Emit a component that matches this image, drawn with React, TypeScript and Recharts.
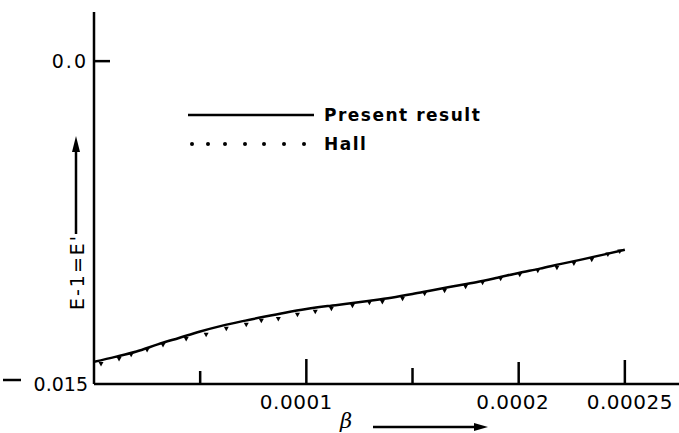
import React from 'react'
import { LineChart, Line, XAxis, YAxis } from 'recharts'

// beta values and E-1=E'
const presentBeta = [
  0, 0.00001, 0.00002, 0.00003, 0.00004, 0.00005, 0.00006, 0.00007, 0.00008, 0.00009,
  0.0001, 0.00011, 0.00012, 0.00013, 0.00014, 0.00015, 0.00016, 0.00017, 0.00018, 0.00019,
  0.0002, 0.00021, 0.00022, 0.00023, 0.00024, 0.00025,
]
const presentE = [
  -0.01397, -0.01374, -0.01349, -0.01316, -0.01286, -0.01256, -0.0123, -0.01208, -0.01188, -0.01169,
  -0.01152, -0.01138, -0.01126, -0.01113, -0.01099, -0.01082, -0.01063, -0.01045, -0.01027, -0.01006,
  -0.00984, -0.00964, -0.00942, -0.00921, -0.00899, -0.00876,
]

const hallBeta = [
  0.0000033, 0.0000118, 0.0000175, 0.000025, 0.0000325, 0.0000434, 0.0000528, 0.0000623, 0.0000717, 0.0000788,
  0.0000868, 0.0000958, 0.0001042, 0.0001118, 0.0001217, 0.0001297, 0.0001358, 0.0001453, 0.0001557, 0.0001651,
  0.000175, 0.000183, 0.0001915, 0.0002005, 0.000209, 0.000218, 0.000226, 0.0002344, 0.000242, 0.0002476,
]
const hallE = [
  -0.01402, -0.01379, -0.0136, -0.01337, -0.01314, -0.01286, -0.01267, -0.01239, -0.0122, -0.01202,
  -0.01193, -0.01174, -0.0116, -0.01146, -0.01132, -0.01118, -0.01114, -0.01099, -0.01076, -0.01062,
  -0.01043, -0.01025, -0.01006, -0.00988, -0.00969, -0.00955, -0.00936, -0.00918, -0.00894, -0.0088,
]

const xTicks = [0.00005, 0.0001, 0.00015, 0.0002, 0.00025]
const xTickLabels: Record<number, string> = { 0.0001: '0.0001', 0.0002: '0.0002', 0.00025: '0.00025' }
const yTicks = [-0.015, 0]
const yTickLabels: Record<number, string> = { [-0.015]: '0.015', 0: '0.0' }

const present = presentBeta.map((x, i) => ({ x, y: presentE[i] }))
const hall = hallBeta.map((x, i) => ({ x, y: hallE[i] }))

const FONT = '"DejaVu Sans", sans-serif'

// tick marks point into the plot, each a bit different in the scan
const tickLen: Record<number, number> = { 0.00005: 13, 0.0001: 25, 0.00015: 16, 0.0002: 22, 0.00025: 24 }
const labelShift: Record<number, number> = { 0.0001: -10, 0.0002: -6, 0.00025: 5 }

const XTick = (props: any) => {
  const { x, y, payload } = props
  const v = payload.value
  const len = tickLen[v] ?? 15
  const label = xTickLabels[v]
  return (
    <g>
      <line x1={x} y1={y} x2={x} y2={y - len} stroke="#000" strokeWidth={2.5} />
      {label && (
        <text x={x + (labelShift[v] ?? 0)} y={y + 25} textAnchor="middle" fontSize={20} letterSpacing={0.5} fontFamily={FONT} fill="#000">
          {label}
        </text>
      )}
    </g>
  )
}

const YTick = (props: any) => {
  const { x, y, payload } = props
  const v = payload.value
  const isTop = v === 0
  return (
    <g>
      {isTop ? (
        <line x1={x} y1={y} x2={x + 16} y2={y} stroke="#000" strokeWidth={2.5} />
      ) : (
        <line x1={3} y1={y - 4} x2={21} y2={y - 4} stroke="#000" strokeWidth={2.5} />
      )}
      <text x={x - 6} y={y + 7} textAnchor="end" fontSize={19} letterSpacing={isTop ? 2 : 0} fontFamily={FONT} fill="#000">
        {yTickLabels[v]}
      </text>
    </g>
  )
}

const HallDot = (props: any) => {
  const { cx, cy } = props
  if (cx == null || cy == null) return null
  return <path d={`M${cx - 2.5},${cy - 1} L${cx + 2.5},${cy - 1} L${cx},${cy + 3.5} Z`} fill="#000" />
}

const legendDots = [192, 208, 225, 245, 264, 284, 304]

export default function App() {
  return (
    <div style={{ position: 'absolute', left: 0, top: 0, width: 679, height: 433, background: '#fff' }}>
      <LineChart width={679} height={433} margin={{ top: 12, right: 0, bottom: 0, left: 0 }}>
        <XAxis
          type="number"
          dataKey="x"
          domain={[0, 0.0002755]}
          ticks={xTicks}
          tick={<XTick />}
          tickLine={false}
          tickSize={0}
          tickMargin={0}
          axisLine={{ stroke: '#000', strokeWidth: 2.5 }}
          height={49}
          allowDataOverflow
        />
        <YAxis
          type="number"
          dataKey="y"
          domain={[-0.015, 0.002283]}
          ticks={yTicks}
          tick={<YTick />}
          tickLine={false}
          tickSize={0}
          tickMargin={0}
          axisLine={{ stroke: '#000', strokeWidth: 2.5 }}
          width={94}
          allowDataOverflow
        />
        <Line
          data={present}
          dataKey="y"
          type="monotone"
          stroke="#000"
          strokeWidth={2.5}
          dot={false}
          isAnimationActive={false}
        />
        <Line
          data={hall}
          dataKey="y"
          type="monotone"
          stroke="none"
          dot={<HallDot />}
          isAnimationActive={false}
        />

        {/* legend */}
        <line x1={188} y1={115} x2={314} y2={115} stroke="#000" strokeWidth={2.5} />
        <text x={324} y={121} fontSize={17} fontWeight="bold" letterSpacing={1.5} fontFamily={FONT} fill="#000">
          Present result
        </text>
        {legendDots.map((dx) => (
          <circle key={dx} cx={dx} cy={144} r={2} fill="#000" />
        ))}
        <text x={324} y={150} fontSize={17} fontWeight="bold" letterSpacing={1.5} fontFamily={FONT} fill="#000">
          Hall
        </text>

        {/* y label with arrow */}
        <line x1={76} y1={234} x2={76} y2={148} stroke="#000" strokeWidth={2.5} />
        <polygon points="76,136 72,152 80,152" fill="#000" />
        <text
          x={84}
          y={272}
          transform="rotate(-90 84 272)"
          textAnchor="middle"
          fontSize={19}
          letterSpacing={2}
          fontFamily={FONT}
          fill="#000"
        >
          E-1=E'
        </text>

        {/* x label with arrow */}
        <text x={346} y={428} textAnchor="middle" fontSize={21} fontStyle="italic" fontFamily='"DejaVu Serif", serif' fill="#000">
          β
        </text>
        <line x1={373} y1={427} x2={476} y2={427} stroke="#000" strokeWidth={2.5} />
        <polygon points="488,427 474,423 474,431" fill="#000" />
      </LineChart>
    </div>
  )
}
